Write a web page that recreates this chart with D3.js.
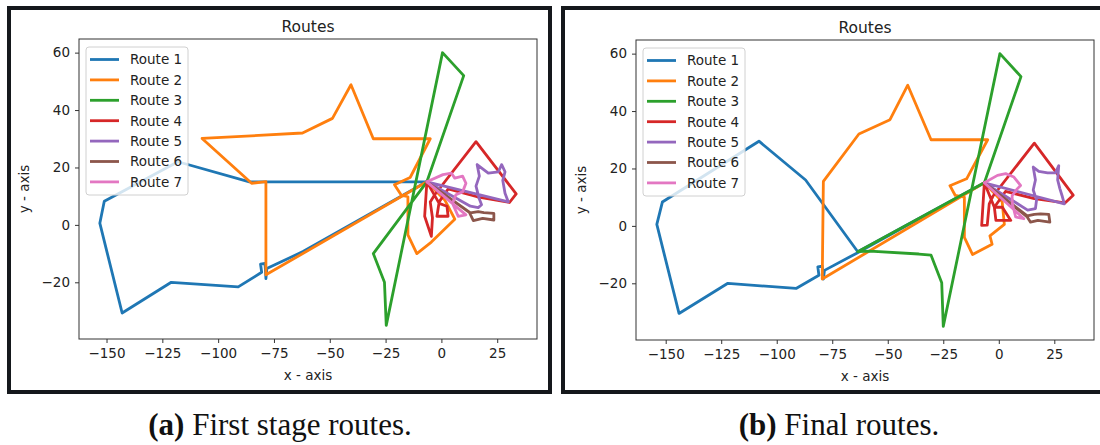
<!DOCTYPE html>
<html>
<head>
<meta charset="utf-8">
<script src="https://cdn.jsdelivr.net/npm/d3@7/dist/d3.min.js"></script>
<style>
body { margin: 0; background: #fff; }
text { font-family: "DejaVu Sans", sans-serif; fill: #222; }
.cap { font-family: "Liberation Serif", "DejaVu Serif", serif; fill: #111; }
</style>
</head>
<body>
<svg id="fig" width="1100" height="445"></svg>
<script>

var routeNames = ["Route 1", "Route 2", "Route 3", "Route 4", "Route 5", "Route 6", "Route 7"];
var routeColors = ["#1f77b4", "#ff7f0e", "#2ca02c", "#d62728", "#9467bd", "#8c564b", "#e377c2"];
var xTicks = [-150, -125, -100, -75, -50, -25, 0, 25];
var yTicks = [-20, 0, 20, 40, 60];

// depot, every route starts and ends here
var H = [-6.5, 15];

// (a) first stage routes
var firstRoute1 = [H, [-86, 15], [-118, 22], [-151, 8.2], [-153, 0.6], [-143, -30.7], [-121, -20], [-91, -21.6],
    [-80.5, -16.5], [-81, -13.7], [-79, -13.4], [-78.6, -18.7], [-78.2, -15.2], [-62, -9.3], H];
var firstRoute2 = [H, [1.5, 8.7], [6, 2], [-4.5, -6], [-11, -10], [-15, -3.5], [-15, 9.8], [-18, 10.4], [-21, 14],
    [-14, 16.5], [-5, 30], [-30.5, 30], [-40.5, 48.8], [-48.8, 37.1], [-62.2, 32], [-107.2, 30.1], [-85, 14.5],
    [-78.6, 15.1], [-78.6, -17.4], H];
var firstRoute3 = [H, [10, 52], [0.5, 60], [-24.7, -35], [-25.5, -20], [-30.5, -10], H];
var firstRoute4 = [H, [-7.5, 3], [-4.5, -4], [-4, 2.5], [-5, 8], [-3, 10.5], [15.5, 29], [33.5, 10.8], [30.5, 7.8],
    [16, 9.8], [3, 12.5], [-1, 8], [-2, 3], [3, 3], [2.5, 6.5], [-1, 7.5], H];
var firstRoute5 = [H, [30, 8], [28.5, 11], [27.5, 15.5], [28.5, 18.5], [27, 21], [25.5, 18.5], [21, 18], [18.5, 19.5],
    [16, 21], [17, 17], [15.5, 13.5], [17, 9], [18, 7], [16.5, 6], [13, 6.5], H];
var firstRoute6 = [H, [12.5, 4.4], [14.3, 1.5], [18.5, 2.3], [23.5, 1.7], [23.5, 4], [19, 4.3], [16.5, 4.6], [13, 4.2], H];
var firstRoute7 = [H, [0.7, 17.5], [4.5, 18], [6, 16.3], [9.5, 17], [11, 14.5], [9.5, 11.5], [6.5, 10.5], [5, 7.5],
    [7.5, 3], [11, 3.5], H];

// (b) final routes
var finalRoute1 = [H, [-63.5, -9], [-87, 16], [-108, 29.5], [-151.5, 8.3], [-154, 0.5], [-144, -30.5], [-122, -20],
    [-91.3, -21.8], [-81, -17.2], [-81.5, -14.3], [-79.5, -14], [-79, -18.5], [-78.5, -15.5], [-64, -9.5], H];
var finalRoute2 = [H, [1.5, 8.5], [2.5, 0.5], [-4, -3.5], [-3, -6.4], [-11.8, -10], [-15.5, -4], [-15.5, 10],
    [-19.6, 10.6], [-22, 14], [-14.5, 16.4], [-5, 30], [-30.5, 30], [-41, 49], [-49, 37], [-63, 32], [-79, 15.5],
    [-79.5, -18.5], H];
var finalRoute3 = [H, [-63.5, -9], [-58, -8.8], [-36, -9.8], [-30.5, -10.2], [-25.7, -19.8], [-25, -35], [0.5, 60],
    [10, 52], H];
var finalRoute4 = [H, [-7.7, 0.2], [-5.2, 0.3], [-4.3, 7.7], [-2.5, 10.5], [16, 28.8], [33.5, 10.7], [29.8, 8],
    [16, 9.5], [3, 12], [-2, 6.5], [1.6, 6.5], [5.4, 1.9], [-1.3, 1.9], [-2, 6.5], H];
var finalRoute5 = [H, [29.5, 7.7], [28.5, 10.5], [27.5, 13], [26.5, 16], [27, 21], [25.5, 18.5], [22, 18.5],
    [18, 19], [15.5, 20.5], [16.5, 16], [15.5, 12.5], [17, 9], [16.5, 6], [13, 5.5], H];
var finalRoute6 = [H, [12.8, 3.1], [14.3, 1.3], [17.6, 1.9], [23, 1.3], [22.5, 4], [18.8, 4.2], [16, 4], [12.8, 3.5], H];
var finalRoute7 = [H, [-0.6, 17.6], [3.1, 18.2], [6.8, 17], [9.8, 14.1], [8.3, 12.9], [6, 10.5], [6.1, 7.7],
    [7.6, 3.1], [11.3, 2.5], H];

var firstStage = [firstRoute1, firstRoute2, firstRoute3, firstRoute4, firstRoute5, firstRoute6, firstRoute7];
var finalStage = [finalRoute1, finalRoute2, finalRoute3, finalRoute4, finalRoute5, finalRoute6, finalRoute7];

var svg = d3.select("#fig");

// screenshot frames
svg.append("rect").attr("x", 9).attr("y", 8).attr("width", 541).attr("height", 384)
    .attr("fill", "#fff").attr("stroke", "#15181c").attr("stroke-width", 4);
svg.append("rect").attr("x", 563).attr("y", 8).attr("width", 560).attr("height", 384)
    .attr("fill", "#fff").attr("stroke", "#15181c").attr("stroke-width", 4);

function padded(lo, hi) {
    var m = (hi - lo) * 0.05;
    return [lo - m, hi + m];
}

function drawPanel(routes, left, top) {
    var w = 458, h = 300;
    var all = [].concat.apply([], routes);
    var x = d3.scaleLinear().domain(padded(d3.min(all, d => d[0]), d3.max(all, d => d[0]))).range([left, left + w]);
    var y = d3.scaleLinear().domain(padded(d3.min(all, d => d[1]), d3.max(all, d => d[1]))).range([top + h, top]);

    var g = svg.append("g");

    var clipId = "clip" + left;
    g.append("clipPath").attr("id", clipId).append("rect")
        .attr("x", left).attr("y", top).attr("width", w).attr("height", h);

    var line = d3.line().x(d => x(d[0])).y(d => y(d[1]));

    g.append("g").attr("clip-path", "url(#" + clipId + ")")
        .selectAll("path")
        .data(routes)
        .enter()
        .append("path")
        .attr("d", line)
        .attr("fill", "none")
        .attr("stroke", (d, i) => routeColors[i])
        .attr("stroke-width", 2.8)
        .attr("stroke-linejoin", "round")
        .attr("stroke-linecap", "round");

    var fmt = v => String(v).replace("-", "\u2212");

    var xAxis = g.append("g").attr("transform", "translate(0," + (top + h) + ")")
        .call(d3.axisBottom(x).tickValues(xTicks).tickSize(4).tickPadding(5).tickFormat(fmt));
    var yAxis = g.append("g").attr("transform", "translate(" + left + ",0)")
        .call(d3.axisLeft(y).tickValues(yTicks).tickSize(4).tickPadding(5).tickFormat(fmt));
    [xAxis, yAxis].forEach(a => {
        a.select(".domain").remove();
        a.selectAll("line").attr("stroke", "#333");
        a.selectAll("text").style("font-size", "13.5px").attr("fill", "#222")
            .style("font-family", "'DejaVu Sans', sans-serif");
    });

    g.append("rect").attr("x", left).attr("y", top).attr("width", w).attr("height", h)
        .attr("fill", "none").attr("stroke", "#333").attr("stroke-width", 1);

    g.append("text").attr("x", left + w / 2).attr("y", top - 7).attr("text-anchor", "middle")
        .style("font-size", "15.5px").text("Routes");
    g.append("text").attr("x", left + w / 2).attr("y", top + h + 41).attr("text-anchor", "middle")
        .style("font-size", "13.5px").text("x - axis");
    g.append("text").attr("transform", "translate(" + (left - 50) + "," + (top + h / 2) + ") rotate(-90)")
        .attr("text-anchor", "middle").style("font-size", "13.5px").text("y - axis");

    // legend
    var lx = left + 7, ly = top + 8;
    var leg = g.append("g");
    leg.append("rect").attr("x", lx).attr("y", ly).attr("width", 102).attr("height", 148).attr("rx", 3)
        .attr("fill", "#fff").attr("fill-opacity", 0.8).attr("stroke", "#d0d0d0");
    var items = leg.selectAll("g.item").data(routeNames).enter().append("g").attr("class", "item");
    items.append("line")
        .attr("x1", lx + 4).attr("x2", lx + 33)
        .attr("y1", (d, i) => ly + 12.5 + i * 20.4).attr("y2", (d, i) => ly + 12.5 + i * 20.4)
        .attr("stroke", (d, i) => routeColors[i]).attr("stroke-width", 2.8);
    items.append("text")
        .attr("x", lx + 44).attr("y", (d, i) => ly + 12.5 + i * 20.4)
        .attr("dy", "0.36em").style("font-size", "13.5px").text(d => d);
}

drawPanel(firstStage, 79, 39);
drawPanel(finalStage, 636, 40);

// sub-captions
var capA = svg.append("text").attr("class", "cap").attr("x", 280).attr("y", 435)
    .attr("text-anchor", "middle").style("font-size", "31px");
capA.append("tspan").style("font-weight", "bold").text("(a)");
capA.append("tspan").text(" First stage routes.");

var capB = svg.append("text").attr("class", "cap").attr("x", 839).attr("y", 435)
    .attr("text-anchor", "middle").style("font-size", "31px");
capB.append("tspan").style("font-weight", "bold").text("(b)");
capB.append("tspan").text(" Final routes.");

</script>
</body>
</html>
